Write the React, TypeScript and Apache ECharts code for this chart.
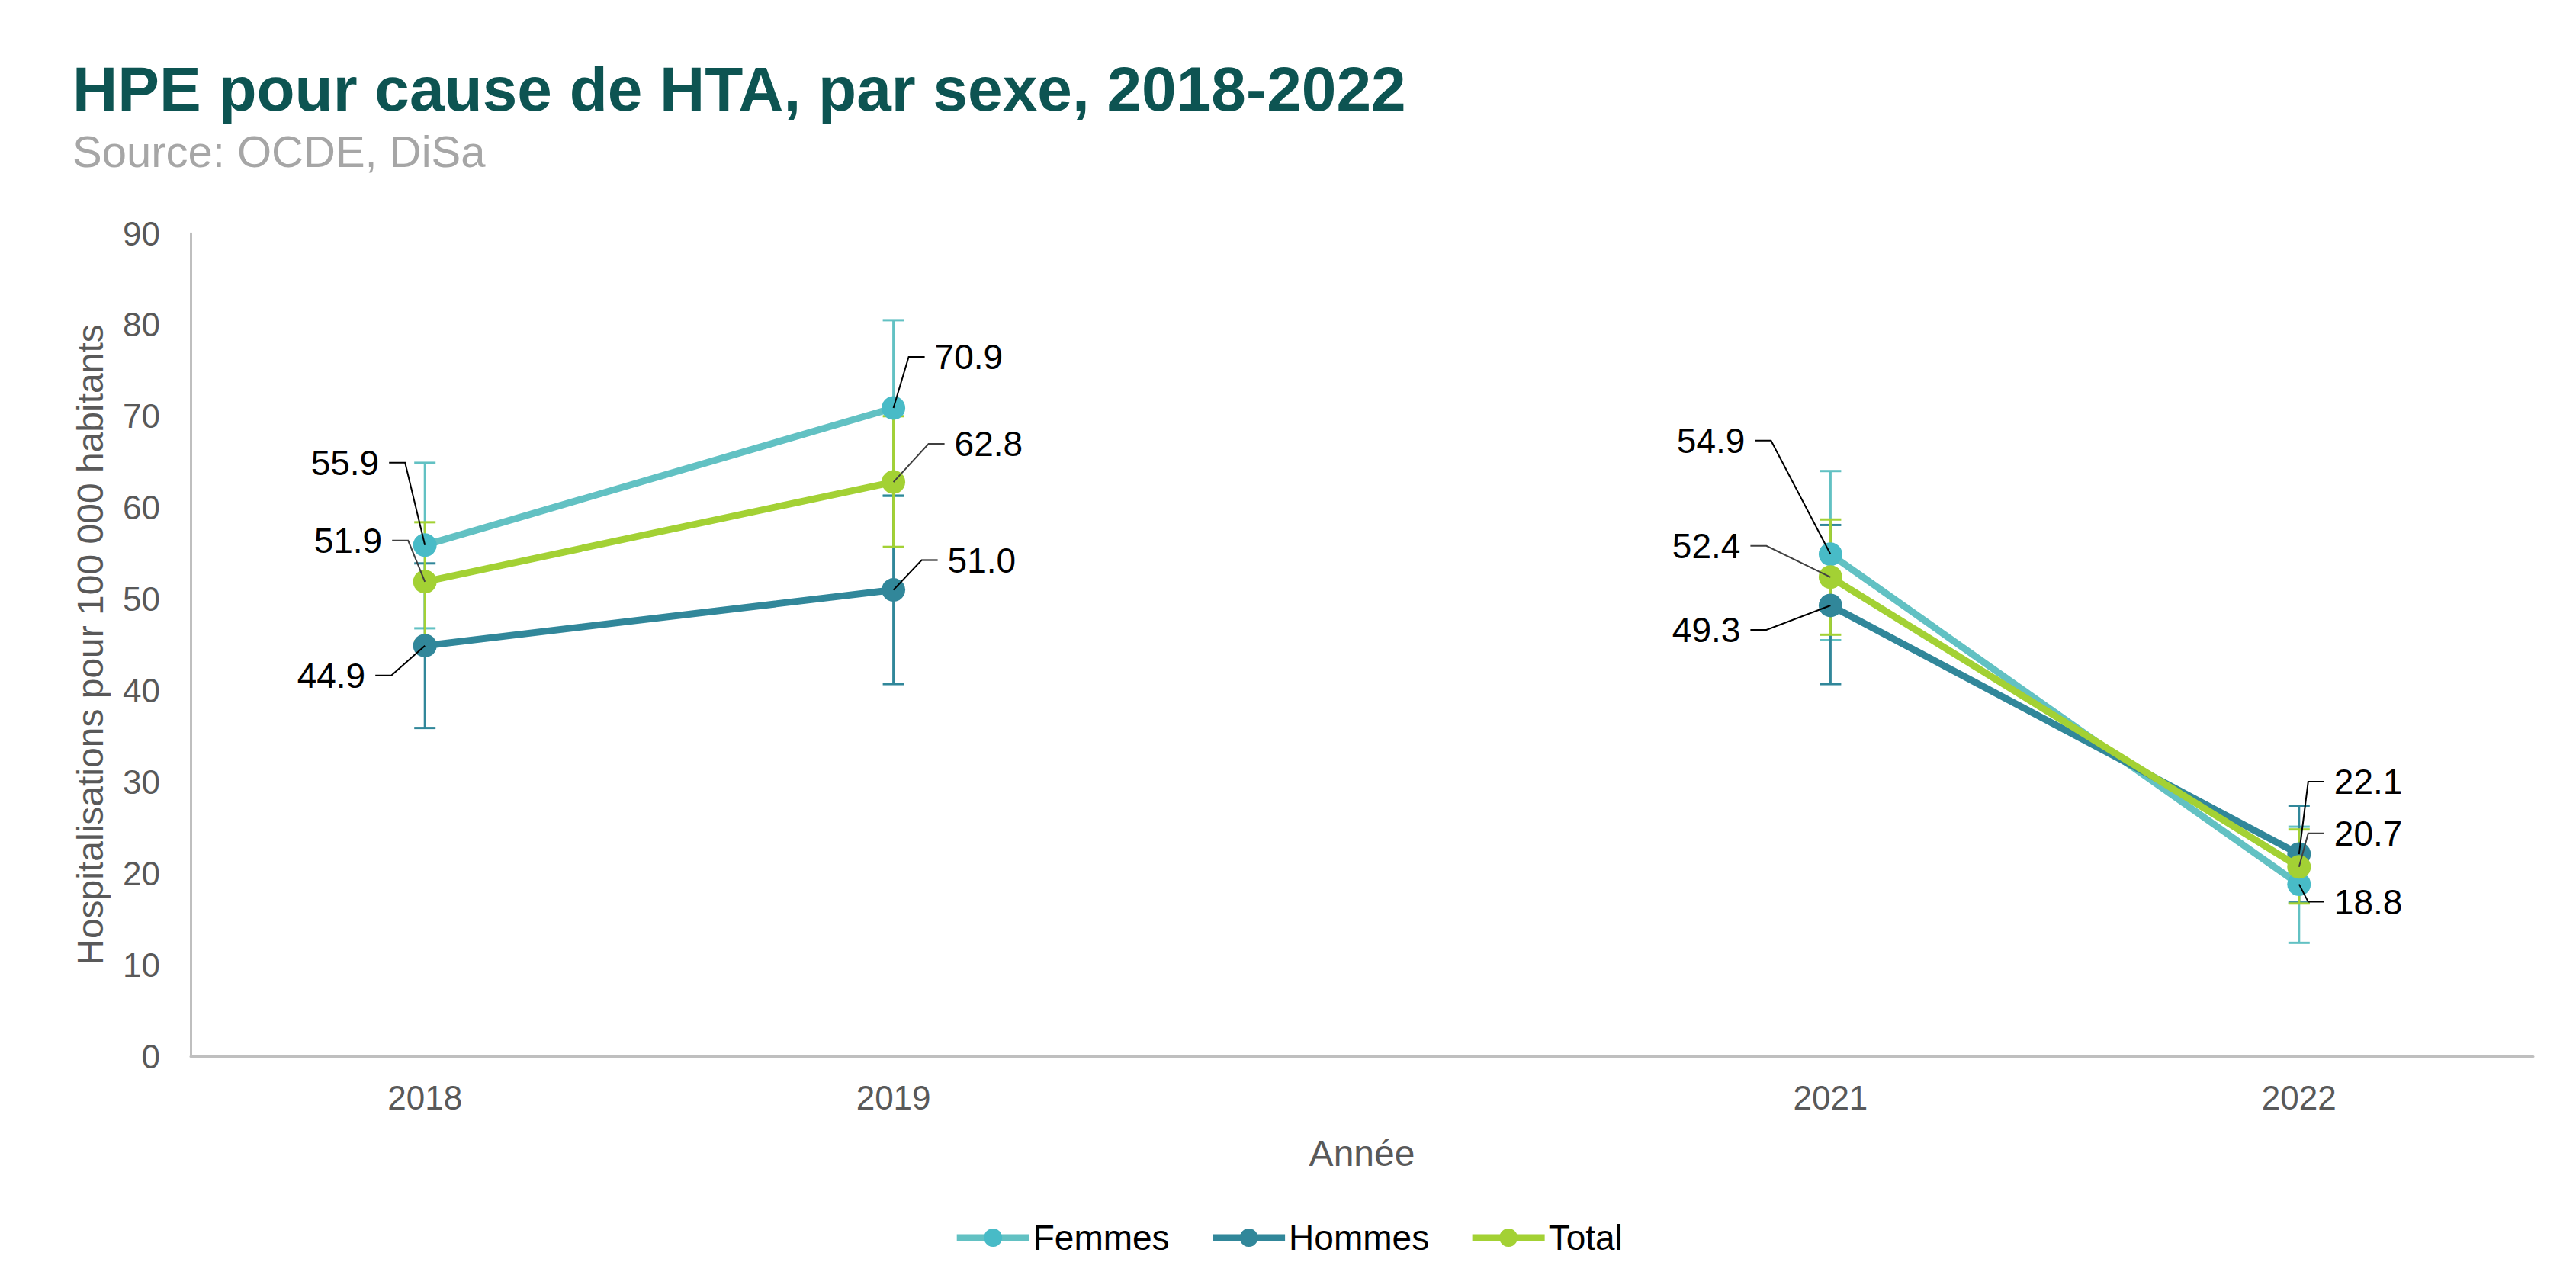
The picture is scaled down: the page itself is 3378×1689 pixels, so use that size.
import React, { useEffect, useRef } from "react";
import * as echarts from "echarts";

// ---- Data ----
const years = ["2018", "2019", "2020", "2021", "2022"];
const femmes = [55.9, 70.9, null, 54.9, 18.8];
const hommes = [44.9, 51.0, null, 49.3, 22.1];
const total = [51.9, 62.8, null, 52.4, 20.7];

const femmesLow = [46.8, 61.3, null, 45.5, 12.4];
const femmesHigh = [64.9, 80.5, null, 64.0, 25.1];
const hommesLow = [35.9, 40.7, null, 40.7, 16.8];
const hommesHigh = [53.9, 61.3, null, 58.1, 27.4];
const totalLow = [45.4, 55.7, null, 46.1, 16.7];
const totalHigh = [58.4, 70.0, null, 58.7, 24.8];

const yTicks = [0, 10, 20, 30, 40, 50, 60, 70, 80, 90];

// ---- Label placement (pixel offsets from the point, style only) ----
const femmesLabelOffset = [[-60, -108], [54, -67], null, [-112, -149], [46, 23]];
const hommesLabelOffset = [[-78, 39], [71, -39], null, [-118, 32], [46, -95]];
const totalLabelOffset = [[-56, -54], [80, -50], null, [-118, -41], [46, -44]];

const FONT = "'Liberation Sans', Arial, sans-serif";
const C_FEM_LINE = "#62C1C3";
const C_FEM_MARK = "#48BBC7";
const C_HOM = "#31879A";
const C_TOT = "#A3D134";

function errorSeries(name: string, low: (number | null)[], high: (number | null)[], color: string) {
  const data: number[][] = [];
  low.forEach((l, i) => {
    const h = high[i];
    if (l != null && h != null) data.push([i, l, h]);
  });
  return {
    type: "custom",
    name,
    silent: true,
    z: 1,
    data,
    renderItem: (params: any, api: any) => {
      const x = api.value(0);
      const lo = api.coord([x, api.value(1)]);
      const hi = api.coord([x, api.value(2)]);
      const cw = 14;
      const st = { stroke: color, lineWidth: 3, fill: "none" };
      return {
        type: "group",
        children: [
          { type: "line", shape: { x1: lo[0], y1: lo[1], x2: hi[0], y2: hi[1] }, style: st },
          { type: "line", shape: { x1: lo[0] - cw, y1: lo[1], x2: lo[0] + cw, y2: lo[1] }, style: st },
          { type: "line", shape: { x1: hi[0] - cw, y1: hi[1], x2: hi[0] + cw, y2: hi[1] }, style: st },
        ],
      };
    },
  };
}

function labelSeries(name: string, vals: (number | null)[], offs: (number[] | null)[], leaderColor: string) {
  const data: number[][] = [];
  vals.forEach((v, i) => {
    const o = offs[i];
    if (v != null && o) data.push([i, v, o[0], o[1]]);
  });
  return {
    type: "custom",
    name,
    silent: true,
    z: 10,
    data,
    renderItem: (params: any, api: any) => {
      const i = api.value(0);
      const v = api.value(1);
      const dx = api.value(2);
      const dy = api.value(3);
      const p = api.coord([i, v]);
      const tx = p[0] + dx;
      const ty = p[1] + dy;
      const s = dx > 0 ? 1 : -1;
      const gap = 13;
      const seg = 21;
      return {
        type: "group",
        children: [
          {
            type: "polyline",
            shape: {
              points: [
                [p[0], p[1]],
                [tx - s * (gap + seg), ty],
                [tx - s * gap, ty],
              ],
            },
            style: { stroke: leaderColor, lineWidth: 2, fill: "none" },
          },
          {
            type: "text",
            style: {
              text: Number(v).toFixed(1),
              x: tx,
              y: ty,
              fill: "#000000",
              fontSize: 46,
              fontFamily: FONT,
              align: dx > 0 ? "left" : "right",
              verticalAlign: "middle",
            },
          },
        ],
      };
    },
  };
}

function lineSeries(name: string, vals: (number | null)[], lineColor: string, markColor: string, z: number) {
  return {
    type: "line",
    name,
    data: vals,
    z,
    connectNulls: false,
    symbol: "circle",
    symbolSize: 31,
    showSymbol: true,
    lineStyle: { color: lineColor, width: 9 },
    itemStyle: { color: markColor },
    label: { show: false },
    emphasis: { disabled: true },
  };
}

export default function App() {
  const ref = useRef<HTMLDivElement>(null);
  useEffect(() => {
    document.body.style.margin = "0";
    const chart = echarts.init(ref.current!, null, { renderer: "svg" });
    const hasData = (i: number) => femmes[i] != null || hommes[i] != null || total[i] != null;
    chart.setOption({
      animation: false,
      backgroundColor: "#ffffff",
      title: [
        {
          text: "HPE pour cause de HTA, par sexe, 2018-2022",
          left: 90,
          top: 70,
          textStyle: { fontFamily: FONT, fontSize: 82, fontWeight: "bold", color: "#0D5452" },
        },
        {
          text: "Source: OCDE, DiSa",
          left: 90,
          top: 164,
          textStyle: { fontFamily: FONT, fontSize: 58, fontWeight: "normal", color: "#A6A6A6" },
        },
      ],
      legend: {
        data: ["Femmes", "Hommes", "Total"],
        left: "center",
        top: 1595,
        itemWidth: 95,
        itemHeight: 30,
        itemGap: 52,
        lineStyle: { width: 9 },
        textStyle: { fontFamily: FONT, fontSize: 46, color: "#000000" },
      },
      grid: { left: 250, right: 56, top: 306, bottom: 304, containLabel: false },
      xAxis: {
        type: "category",
        data: years,
        boundaryGap: true,
        name: "Année",
        nameLocation: "middle",
        nameGap: 103,
        nameTextStyle: { fontFamily: FONT, fontSize: 48, color: "#595959" },
        axisLine: { show: true, lineStyle: { color: "#BFBFBF", width: 3 } },
        axisTick: { show: false },
        axisLabel: {
          fontFamily: FONT,
          fontSize: 44,
          color: "#595959",
          margin: 32,
          formatter: (val: string, idx: number) => (hasData(idx) ? val : ""),
        },
        splitLine: { show: false },
      },
      yAxis: {
        type: "value",
        min: yTicks[0],
        max: yTicks[yTicks.length - 1],
        interval: 10,
        name: "Hospitalisations pour 100 000 habitants",
        nameLocation: "middle",
        nameGap: 108,
        nameTextStyle: { fontFamily: FONT, fontSize: 48, color: "#595959" },
        axisLine: { show: true, lineStyle: { color: "#BFBFBF", width: 3 } },
        axisTick: { show: false },
        axisLabel: { fontFamily: FONT, fontSize: 44, color: "#595959", margin: 40 },
        splitLine: { show: false },
      },
      series: [
        errorSeries("Femmes IC", femmesLow, femmesHigh, C_FEM_LINE),
        errorSeries("Hommes IC", hommesLow, hommesHigh, C_HOM),
        errorSeries("Total IC", totalLow, totalHigh, C_TOT),
        lineSeries("Femmes", femmes, C_FEM_LINE, C_FEM_MARK, 3),
        lineSeries("Hommes", hommes, C_HOM, C_HOM, 4),
        lineSeries("Total", total, C_TOT, C_TOT, 5),
        labelSeries("Femmes lbl", femmes, femmesLabelOffset, "#000000"),
        labelSeries("Hommes lbl", hommes, hommesLabelOffset, "#000000"),
        labelSeries("Total lbl", total, totalLabelOffset, "#404040"),
      ],
    });
    return () => chart.dispose();
  }, []);
  return <div ref={ref} style={{ width: 3378, height: 1689 }} />;
}
